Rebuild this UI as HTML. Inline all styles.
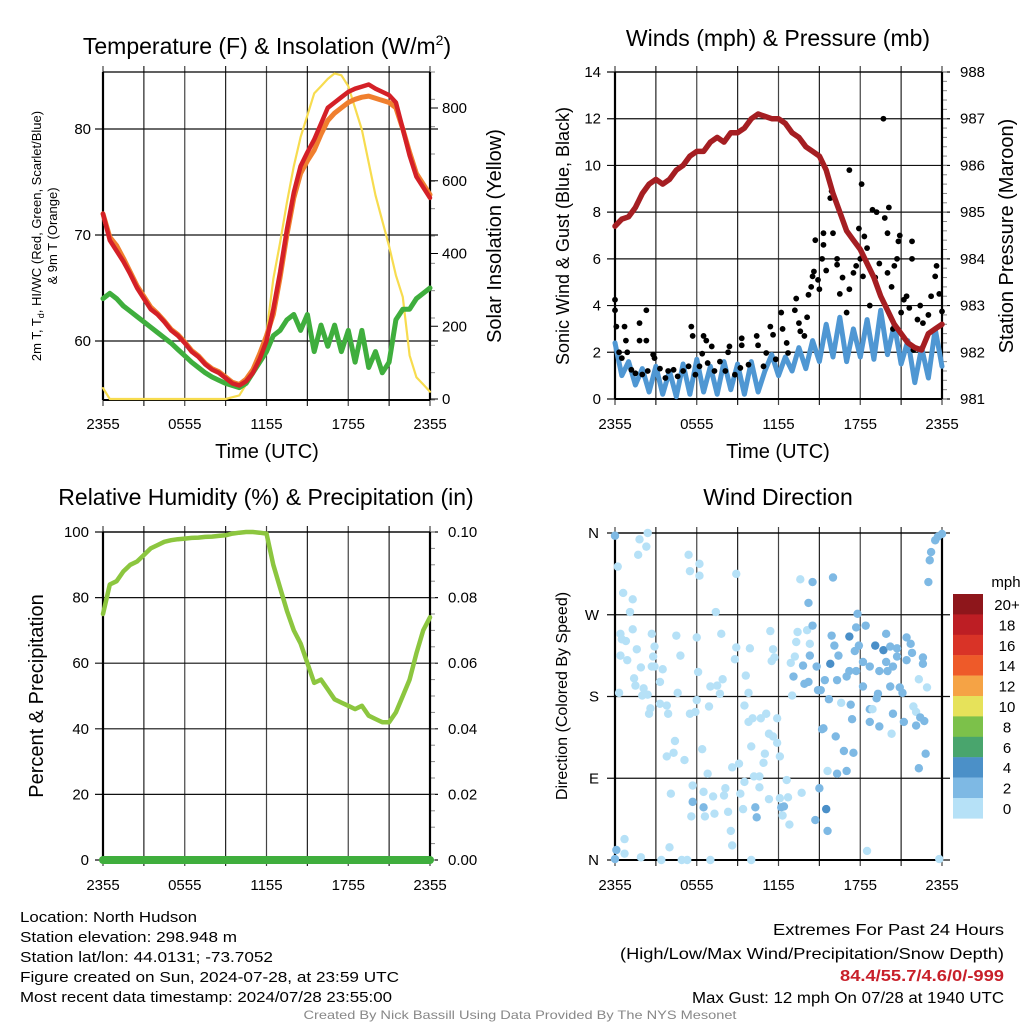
<!DOCTYPE html>
<html><head><meta charset="utf-8"><style>
body{margin:0;background:#fff;}
svg{display:block;font-family:"Liberation Sans",sans-serif;}
</style></head><body>
<svg id="fig" width="1024" height="1024" viewBox="0 0 1024 1024"></svg>
<script>
// ---------- DATA ----------
const hours = [];
for (let i = 0; i <= 48; i++) hours.push(i * 0.5);
const temp2m = [72,69.5,68.5,67.5,66.3,65,64,63,62.5,61.8,61,60.5,59.8,59,58.5,57.8,57.3,57,56.5,56,55.8,56.2,57,58.3,60,63,66.5,70.5,74,76.5,77.8,79,80.5,82,82.5,83,83.5,83.8,84,84.2,83.8,83.5,83.2,82.5,80,77.5,75.5,74.5,73.5];
const temp9m = [72,69.8,69,67.8,66.5,65.2,64.2,63.2,62.6,61.9,61.1,60.6,59.9,59.1,58.6,57.9,57.4,57.1,56.6,56.1,55.9,56.4,57.3,58.8,60.5,62.5,66,70,73.5,75.8,77,78,79.5,80.8,81.5,82,82.5,82.8,83,83.1,82.9,82.7,82.5,82,80,77.8,75.8,74.8,73.8];
const dewpt = [64,64.5,64,63.3,62.8,62.3,61.8,61.3,60.8,60.3,59.8,59.2,58.6,58,57.5,57,56.6,56.3,56,55.8,55.6,56,57,58,59,60.5,61,62,62.5,61,62.5,59,61.5,59.5,61.5,59,61,58,61,57.5,59,57,58,62,63,63,64,64.5,65];
const solar = [30,0,0,0,0,0,0,0,0,0,0,0,0,0,0,0,0,0,0,5,10,40,80,120,180,330,430,540,640,720,780,840,860,880,895,890,860,800,740,650,560,490,420,340,280,120,60,40,20];
const pressure = [984.7,984.85,984.9,985.1,985.4,985.6,985.7,985.6,985.7,985.9,986.0,986.2,986.3,986.3,986.5,986.6,986.5,986.7,986.7,986.8,987.0,987.1,987.05,987.0,987.0,986.9,986.7,986.6,986.4,986.3,986.2,985.9,985.4,985.0,984.6,984.4,984.2,983.9,983.6,983.2,982.9,982.6,982.4,982.2,982.1,982.05,982.4,982.5,982.6];
const windSpeed = [2.4,1.0,1.6,0.6,1.3,0.3,1.4,0.2,1.2,0.1,1.5,0.2,1.7,0.3,1.4,0.2,1.6,0.4,1.5,0.2,1.6,0.3,1.2,1.9,1.0,1.8,1.2,2.2,1.3,2.5,1.6,3.2,1.8,3.5,1.6,3.0,1.8,3.4,1.7,3.8,1.9,3.2,1.5,2.5,0.7,2.2,0.9,3.0,1.4];
const gustT = [0,0,0.1,0.3,0.5,0.9,0.7,0.8,1.8,1.8,2.3,2.3,1.2,1.5,2.0,2.4,2.8,2.9,3.3,3.7,3.9,4.3,4.6,5.0,5.4,5.6,5.7,5.9,6.2,6.4,6.5,6.7,6.8,7.1,7.3,7.7,8.1,8.3,8.4,8.8,9.2,9.3,9.3,9.8,10.4,10.5,10.9,11.1,11.4,11.6,11.8,12.2,12.3,12.6,12.7,13.2,13.3,13.5,13.6,13.9,14.1,14.2,14.4,14.5,14.6,14.7,14.9,15.0,15.2,15.3,15.3,15.5,15.8,15.9,16.0,16.3,16.3,16.5,16.7,17.0,17.2,17.2,17.5,17.7,17.9,18.0,18.1,18.2,18.3,18.5,18.7,18.9,19.1,19.2,19.4,19.7,19.8,20.0,20.0,20.1,20.3,20.5,20.7,20.8,20.9,21.0,21.2,21.4,21.6,21.8,21.8,22.2,22.4,22.6,23.0,23.2,23.5,23.6,23.8,24.0,20.4,21.9];
const gustV = [4.25,3.8,3.1,2.0,1.75,2.0,3.1,2.5,3.25,2.5,3.8,2.5,1.25,1.1,1.05,1.2,1.9,1.75,1.3,0.9,1.2,1.25,0.97,1.2,1.4,3.1,2.7,1.04,1.4,1.94,2.7,2.5,1.54,2.25,1.2,1.6,1.2,2.0,2.25,1.04,1.33,2.6,2.3,1.47,2.7,2.3,1.4,1.97,3.1,2.75,1.7,3.7,3.0,2.4,1.97,3.8,4.3,3.25,2.9,2.7,3.5,4.46,4.8,5.25,5.46,6.8,5.1,4.7,6.0,7.1,6.6,5.5,8.6,8.9,7.1,6.0,5.75,4.5,5.2,3.7,9.8,4.7,5.4,5.7,7.3,6.0,9.2,5.25,6.96,6.46,4.0,8.1,5.2,8.0,5.8,12.0,7.75,7.1,5.4,8.2,4.8,5.7,6.0,6.75,7.0,3.7,4.25,4.4,3.9,6.0,6.75,3.4,4.0,3.25,3.6,4.4,5.25,5.7,4.5,3.75,3.0,2.1];
const rh = [75,84,85,88,90,91,93,95,96,97,97.5,97.8,98,98.2,98.3,98.5,98.6,98.8,99,99.5,99.8,100,100,99.8,99.5,90,83,76,70,66,60,54,55,52,49,48,47,46,47,44,43,42,42,45,50,55,63,70,74];
const precip = [0,0,0,0,0,0,0,0,0,0,0,0,0,0,0,0,0,0,0,0,0,0,0,0,0,0,0,0,0,0,0,0,0,0,0,0,0,0,0,0,0,0,0,0,0,0,0,0,0];
const dirT = [0,0.2,1.8,2.4,2.3,1.7,0.6,1.3,1.1,0.4,0.5,0.8,1.3,2.7,1.6,2.9,0.4,0.9,1.9,2.7,1.4,1.5,2.1,0.3,2.0,2.4,3.3,3.5,3.3,3.8,2.6,2.5,3.9,4.4,4.3,3.8,5.1,4.1,5.7,5.7,6.5,5.6,6.6,7.3,7.2,6.5,6.8,8.1,8.0,8.3,8.5,8.6,8.6,9.1,9.5,9.2,9.4,10.2,10.6,10.3,10.4,10.6,11.3,12.2,12.4,12.3,12.7,12.8,12.1,12.6,13.7,14.7,15.0,15.5,15.6,15.6,16.3,17.0,16.8,17.5,16.2,15.2,15.3,17.4,17.3,16.6,15.7,15.1,13.0,11.6,11.9,12.1,11.0,10.9,10.0,11.3,10.7,11.1,11.9,9.8,10.1,9.5,9.8,9.6,8.8,8.9,9.9,11.6,11.5,11.7,11.4,12.9,13.2,13.4,14.1,13.3,14.3,14.5,14.2,14.5,13.6,16.0,17.8,17.7,18.4,15.9,17.2,16.1,16.4,15.8,14.8,13.8,14.3,13.1,13.9,14.2,14.9,15.4,16.3,17.0,17.2,17.7,17.9,17.6,18.2,18.7,19.1,19.7,19.9,19.9,19.4,20.0,20.4,20.7,20.2,20.7,21.4,21.7,21.8,21.4,22.6,22.6,18.2,19.3,19.2,20.2,20.9,21.1,22.3,22.9,21.9,22.1,22.4,22.7,22.1,21.2,20.4,19.4,18.7,18.7,18.9,20.3,22.8,22.3,18.5,23.8,23.0,23.1,23.2,23.5,23.7,24.0,0,0.1,0.7,0.7,1.9,4.0,3.4,4.9,5.3,7.0,10.0,5.4,6.2,5.5,6.2,8.9,7.4,6.0,7.8,4.5,4.8,6.1,7.0,7.5,7.9,7.7,4.6,6.0,5.5,5.9,6.9,6.4,2.8,2.9];
const dirDeg = [357,323,353,360,345,336,294,287,273,249,243,241,254,249,232,235,225,220,212,213,200,192,189,184,181,182,196,210,172,170,167,161,161,131,118,114,110,73,82,64,58,48,48,51,70,75,95,79,71,53,32,16,102,106,86,73,56,92,92,58,47,80,67,58,59,49,69,39,68,88,74,44,79,56,32,98,95,98,120,118,136,144,145,155,171,173,177,187,181,136,129,114,117,107,125,139,156,161,156,152,156,170,184,203,221,234,233,232,219,223,252,217,224,251,253,240,238,258,283,306,309,311,271,256,258,247,246,236,225,216,213,214,225,202,194,196,187,198,198,202,208,208,236,230,218,213,236,231,249,218,208,208,213,224,235,233,245,238,228,220,223,216,191,183,178,191,190,184,199,190,169,163,157,153,148,152,161,147,152,166,166,139,117,101,10,1,306,330,339,352,356,359,1,11,23,7,3,14,0,0,0,0,0,336,326,318,313,315,273,245,249,247,225,207,191,192,199,183,184,176,161,163,169,122,224,213];
const dirSpd = [3,1,1,1,1,1,1,1,1,1,1,1,1,1,1,1,1,1,1,1,1,1,1,1,1,1,1,1,1,1,1,1,1,1,1,1,1,1,1,3,3,1,1,1,1,1,1,1,1,1,1,1,1,1,1,1,1,1,1,3,3,1,1,3,3,1,1,1,1,1,1,3,3,4,3,1,3,3,3,3,3,3,3,3,3,1,3,3,1,1,1,1,1,1,1,1,1,1,1,1,1,1,1,1,1,1,1,1,1,1,1,1,1,1,1,1,1,3,3,3,1,3,3,3,3,3,4,3,3,4,3,3,3,3,3,3,3,3,3,3,3,3,3,3,3,3,4,4,3,3,3,3,3,3,3,3,3,3,3,3,3,3,3,3,3,3,3,3,1,1,1,1,3,3,3,3,3,3,3,3,1,1,3,3,1,1,3,3,3,3,3,3,3,3,1,1,1,1,1,1,1,1,1,1,1,1,1,1,1,1,1,1,1,1,1,1,1,1,1,1,1,1,1,1,1,1,1];
const timeTicks = ["2355","0555","1155","1755","2355"];
const tempTicks = [60,70,80];
const solarTicks = [0,200,400,600,800];
const windTicks = [0,2,4,6,8,10,12,14];
const presTicks = [981,982,983,984,985,986,987,988];
const rhTicks = [0,20,40,60,80,100];
const precTicks = ["0.00","0.02","0.04","0.06","0.08","0.10"];
const dirTicks = ["N","E","S","W","N"];
const cbLabels = ["20+","18","16","14","12","10","8","6","4","2","0"];
const cbColors = ["#8e161b","#bd1e24","#d93327","#ee5a29","#f5a345","#e6e25a","#7cc14a","#49a56d","#4b90c8","#7eb9e4","#b6e1f7"];

// ---------- HELPERS ----------
const NS = "http://www.w3.org/2000/svg";
const svg = document.getElementById("fig");
function mk(tag, attrs, parent) {
  const e = document.createElementNS(NS, tag);
  for (const k in attrs) e.setAttribute(k, attrs[k]);
  (parent || svg).appendChild(e);
  return e;
}
function txt(s, x, y, size, opts) {
  opts = opts || {};
  const e = mk("text", {x: x, y: y, "font-size": size, "text-anchor": opts.anchor || "middle", fill: opts.fill || "#000"});
  if (opts.rot) e.setAttribute("transform", "rotate(-90 " + x + " " + y + ")");
  if (opts.len) { e.setAttribute("textLength", opts.len); e.setAttribute("lengthAdjust", "spacingAndGlyphs"); }
  if (opts.weight) e.setAttribute("font-weight", opts.weight);
  e.textContent = s;
  return e;
}
function axisX(L, R) { return t => L + t / 24 * (R - L); }
function lin(v0, v1, p0, p1) { return v => p0 + (v - v0) / (v1 - v0) * (p1 - p0); }
function frame(L, T, R, B, name) {
  const g = mk("g", {});
  
  
  for (let i = 0; i <= 8; i++) {
    const x = L + i * (R - L) / 8;
    const ln = mk("line", {x1: x, y1: T - 6, x2: x, y2: B + 6, stroke: i % 2 ? "#222" : "#444", "stroke-width": 1.2}, g);
    
    
  }
  return g;
}
function hgrid(g, L, R, y) {
  const ln = mk("line", {x1: L - 8, y1: y, x2: R + 8, y2: y, stroke: "#111", "stroke-width": 1.2}, g);
  
  
}
function border(g, L, T, R, B) {
  mk("line", {x1: L, y1: T, x2: L, y2: B, stroke: "#000", "stroke-width": 2.2}, g);
  mk("line", {x1: R, y1: T, x2: R, y2: B, stroke: "#000", "stroke-width": 2.2}, g);
  mk("line", {x1: L, y1: B, x2: R, y2: B, stroke: "#000", "stroke-width": 2}, g);
  mk("line", {x1: L, y1: T, x2: R, y2: T, stroke: "#000", "stroke-width": 1.2}, g);
}
function minorTicks(g, x, T, B, n) {
  for (let i = 0; i <= n; i++) {
    const y = T + i * (B - T) / n;
    mk("line", {x1: x, y1: y, x2: x + 5, y2: y, stroke: "#888", "stroke-width": 1}, g);
  }
}
function timeLabels(L, R, y) {
  const X = axisX(L, R);
  timeTicks.forEach((s, i) => {
    const t = txt(s, X(i * 6), y, 15);
    
    
  });
}
function poly(pts, color, w, name) {
  const p = mk("polyline", {points: pts.map(q => q[0].toFixed(1) + "," + q[1].toFixed(1)).join(" "), fill: "none", stroke: color, "stroke-width": w, "stroke-linejoin": "round", "stroke-linecap": "round"});
  
  
  return p;
}

// ---------- PANEL 1: Temperature ----------
(function(){
  const L = 103, R = 430, T = 72, B = 400;
  const X = axisX(L, R), Y = lin(60, 80, 341, 129), YS = lin(0, 800, 399, 108);
  const g = frame(L, T, R, B, "temperature-panel");
  tempTicks.forEach(v => { hgrid(g, L, R, Y(v)); const t = txt(v, L - 12, Y(v) + 5, 15, {anchor: "end"});   });
  solarTicks.forEach(v => { mk("line", {x1: R, y1: YS(v), x2: R + 8, y2: YS(v), stroke: "#000"}); const t = txt(v, R + 12, YS(v) + 5, 15, {anchor: "start"});   });
  minorTicks(g, R, T, B, 12);
  border(g, L, T, R, B);
  poly(hours.map((h, i) => [X(h), YS(solar[i])]), "#f7dc4f", 2.2, "solar-insolation-line");
  poly(hours.map((h, i) => [X(h), Y(dewpt[i])]), "#3fae3d", 5, "dewpoint-line");
  poly(hours.map((h, i) => [X(h), Y(temp9m[i])]), "#f07f2e", 5, "temp-9m-line");
  poly(hours.map((h, i) => [X(h), Y(temp2m[i])]), "#d42027", 4.5, "temp-2m-line");
  timeLabels(L, R, 429);
  let t = txt("Time (UTC)", 267, 458, 20);  
  t = mk("text", {x: 267, y: 54, "font-size": 23, "text-anchor": "middle"});
  t.innerHTML = 'Temperature (F) &amp; Insolation (W/m<tspan dy="-9" font-size="14">2</tspan><tspan dy="9">)</tspan>';
   
  t = mk("text", {x: 0, y: 0, "font-size": 13, "text-anchor": "middle", transform: "translate(41 236) rotate(-90)"});
  t.innerHTML = '2m T, T<tspan dy="3" font-size="9">d</tspan><tspan dy="-3">, HI/WC (Red, Green, Scarlet/Blue)</tspan>';
   
  t = txt("& 9m T (Orange)", 57, 236, 13, {rot: true});  
  t = txt("Solar Insolation (Yellow)", 501, 236, 20, {rot: true});  
})();

// ---------- PANEL 2: Winds ----------
(function(){
  const L = 615, R = 942, T = 72, B = 399;
  const X = axisX(L, R), Y = lin(0, 14, 399, 72), YP = lin(981, 988, 399, 72);
  const g = frame(L, T, R, B, "winds-panel");
  windTicks.forEach(v => { hgrid(g, L, R, Y(v)); const t = txt(v, L - 14, Y(v) + 5, 15, {anchor: "end"});   });
  presTicks.forEach(v => { const t = txt(v, R + 18, YP(v) + 5, 15, {anchor: "start"});   });
  minorTicks(g, R, T, B, 35);
  border(g, L, T, R, B);
  poly(hours.map((h, i) => [X(h), Y(windSpeed[i])]), "#4f97d3", 5, "sonic-wind-line");
  gustT.forEach((h, i) => {
    const c = mk("circle", {cx: X(h), cy: Y(gustV[i]), r: 2.9, fill: "#000"});
    
    
  });
  poly(hours.map((h, i) => [X(h), YP(pressure[i])]), "#a51e22", 5.5, "pressure-line");
  timeLabels(L, R, 429);
  let t = txt("Time (UTC)", 778, 458, 20);  
  t = txt("Winds (mph) & Pressure (mb)", 778, 46, 23);  
  t = txt("Sonic Wind & Gust (Blue, Black)", 569, 236, 18, {rot: true});  
  t = txt("Station Pressure (Maroon)", 1013, 236, 20, {rot: true});  
})();

// ---------- PANEL 3: RH ----------
(function(){
  const L = 103, R = 430, T = 532, B = 860;
  const X = axisX(L, R), Y = lin(0, 100, 860, 532), YP = lin(0, 0.10, 860, 532);
  const g = frame(L, T, R, B, "humidity-panel");
  rhTicks.forEach(v => { hgrid(g, L, R, Y(v)); const t = txt(v, L - 14, Y(v) + 5, 15, {anchor: "end"});   });
  precTicks.forEach((s, i) => { const t = txt(s, R + 18, Y(i * 20) + 5, 15, {anchor: "start"});   });
  minorTicks(g, R, T, B, 20);
  border(g, L, T, R, B);
  poly(hours.map((h, i) => [X(h), Y(rh[i])]), "#8cc63f", 4.5, "relative-humidity-line");
  poly(hours.map((h, i) => [X(h), YP(precip[i])]), "#3fae3d", 8, "precipitation-line");
  timeLabels(L, R, 890);
  let t = txt("Relative Humidity (%) & Precipitation (in)", 266, 505, 23);  
  t = txt("Percent & Precipitation", 43, 696, 20, {rot: true});  
})();

// ---------- PANEL 4: Wind direction ----------
(function(){
  const L = 615, R = 942, T = 533, B = 860;
  const X = axisX(L, R), Y = lin(0, 360, 860, 533);
  const g = frame(L, T, R, B, "wind-direction-panel");
  dirTicks.forEach((s, i) => { hgrid(g, L, R, Y(i * 90)); const t = txt(s, L - 16, Y(i * 90) + 5, 15, {anchor: "end"});   });
  border(g, L, T, R, B);
  dirT.forEach((h, i) => {
    const s = dirSpd[i];
    const col = s >= 4 ? "#4a8fc8" : (s >= 2 ? "#7eb9e4" : "#b6e1f7");
    const c = mk("circle", {cx: X(h), cy: Y(dirDeg[i]), r: 4.2, fill: col});
    
    
  });
  timeLabels(L, R, 890);
  let t = txt("Wind Direction", 778, 505, 23);  
  t = txt("Direction (Colored By Speed)", 567, 696, 16, {rot: true});  
  const cb = mk("g", {});
  
  
  cbColors.forEach((c, i) => {
    const r = mk("rect", {x: 953, y: 594 + i * 20.4, width: 30, height: 20.6, fill: c}, cb);
    
    
    const t2 = txt(cbLabels[i], 1007, 594 + i * 20.4 + 16, 15);
    
    
  });
  t = txt("mph", 1006, 587, 15);  
})();

// ---------- FOOTER TEXT ----------
const leftInfo = [["Location: North Hudson",177],["Station elevation: 298.948 m",217],["Station lat/lon: 44.0131; -73.7052",253],["Figure created on Sun, 2024-07-28, at 23:59 UTC",379],["Most recent data timestamp: 2024/07/28 23:55:00",372]];
leftInfo.forEach((a, i) => {
  const t = txt(a[0], 20, 922 + i * 20, 15, {anchor: "start", len: a[1]});
  
  
});
let ft = txt("Extremes For Past 24 Hours", 1004, 935, 16, {anchor: "end", len: 231});  
ft = txt("(High/Low/Max Wind/Precipitation/Snow Depth)", 1004, 959, 16, {anchor: "end", len: 384});  
ft = txt("84.4/55.7/4.6/0/-999", 1004, 981, 16, {anchor: "end", len: 164, fill: "#c8202a", weight: "bold"});  
ft = txt("Max Gust: 12 mph On 07/28 at 1940 UTC", 1004, 1003, 16, {anchor: "end", len: 312});  
ft = txt("Created By Nick Bassill Using Data Provided By The NYS Mesonet", 520, 1019, 12, {len: 433, fill: "#888"});  
</script>
</body></html>
